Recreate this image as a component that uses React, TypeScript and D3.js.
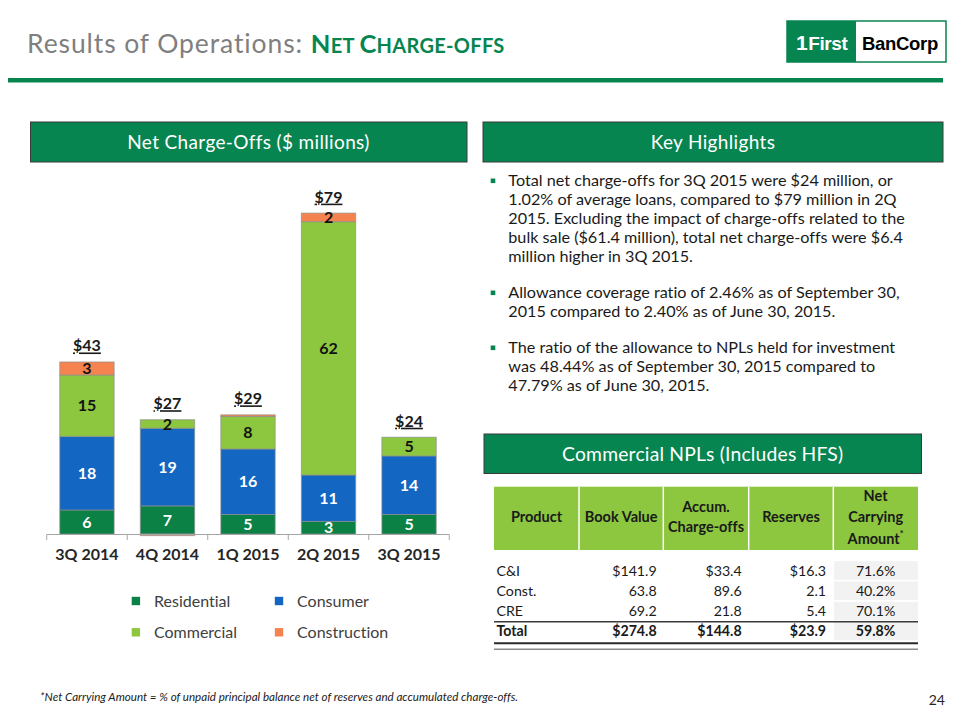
import React from 'react';
import * as d3 from 'd3';

// ---------- Data ----------
const quarters = ['3Q 2014', '4Q 2014', '1Q 2015', '2Q 2015', '3Q 2015'];
const residential = [5.9, 6.9, 4.8, 3.1, 4.8];
const consumer = [18.1, 19.1, 16.1, 11.4, 14.4];
const commercial = [15.1, 2.1, 8.0, 62.3, 4.6];
const construction = [3.2, -0.4, 0.4, 2.1, 0];
const totalLabels = ['$43', '$27', '$29', '$79', '$24'];
const seriesNames = ['Residential', 'Consumer', 'Commercial', 'Construction'];

const products = ['C&I', 'Const.', 'CRE', 'Total'];
const bookValue = ['$141.9', '63.8', '69.2', '$274.8'];
const accumChargeOffs = ['$33.4', '89.6', '21.8', '$144.8'];
const reserves = ['$16.3', '2.1', '5.4', '$23.9'];
const netCarrying = ['71.6%', '40.2%', '70.1%', '59.8%'];

const highlightBullets = [
  [
    'Total net charge-offs for 3Q 2015 were $24 million, or',
    '1.02% of average loans, compared to $79 million in 2Q',
    '2015. Excluding the impact of charge-offs related to the',
    'bulk sale ($61.4 million), total net charge-offs were $6.4',
    'million higher in 3Q 2015.',
  ],
  [
    'Allowance coverage ratio of 2.46% as of September 30,',
    '2015 compared to 2.40% as of June 30, 2015.',
  ],
  [
    'The ratio of the allowance to NPLs held for investment',
    'was 48.44% as of September 30, 2015 compared to',
    '47.79% as of June 30, 2015.',
  ],
];

// ---------- Styles ----------
const FONT = 'Lato, "Open Sans", sans-serif';
const GREEN = '#078550';
const colors: Record<string, string> = {
  Residential: '#0B8145',
  Consumer: '#1366C2',
  Commercial: '#8DC63F',
  Construction: '#F5834F',
};
const labelColors: Record<string, string> = {
  Residential: '#ffffff',
  Consumer: '#ffffff',
  Commercial: '#111111',
  Construction: '#111111',
};

export default function App() {
  const rows = quarters.map((q, i) => ({
    q,
    Residential: residential[i],
    Consumer: consumer[i],
    Commercial: commercial[i],
    Construction: construction[i],
  }));
  const stack = d3
    .stack<any>()
    .keys(seriesNames)
    .offset(d3.stackOffsetDiverging);
  const series = stack(rows);

  const x = d3
    .scaleBand<string>()
    .domain(quarters)
    .range([46.7, 449.3])
    .paddingInner(0.325)
    .paddingOuter(0.1625);
  const y = d3.scaleLinear().domain([0, 79]).range([534, 212.7]);

  const tops = quarters.map((_, i) =>
    d3.max(series, (s) => s[i][1]) as number
  );

  const step = x.step();
  const tickXs = d3.range(quarters.length + 1).map((k) => 46.7 + k * step);

  // table layout
  const colEdges = [494, 579, 663.3, 748.7, 833.3, 918];
  const rowYs = [570.7, 591, 611.3, 631.3];

  return (
    <svg
      width={960}
      height={720}
      style={{ position: 'absolute', left: 0, top: 0, background: '#fff', fontVariantLigatures: 'none' }}
      fontFamily={FONT}
    >
      {/* Title */}
      <text x={27} y={52.5} fontSize={26.5} fill="#7F7F7F" letterSpacing={0.9}>
        Results of Operations:{' '}
        <tspan fill={GREEN} fontWeight={700} letterSpacing={0.3}>
          <tspan fontSize={25.5}>N</tspan>
          <tspan fontSize={20}>ET </tspan>
          <tspan fontSize={25.5}>C</tspan>
          <tspan fontSize={20}>HARGE-OFFS</tspan>
        </tspan>
      </text>
      {/* Logo */}
      <g>
        <rect x={787} y={21} width={159} height={41} fill="#fff" stroke={GREEN} strokeWidth={1.5} />
        <rect x={787} y={21} width={69} height={41} fill={GREEN} />
        <text x={796} y={49.5} fill="#fff" fontFamily='"Liberation Sans", Arial, sans-serif' fontWeight={700}>
          <tspan fontSize={21} letterSpacing={-1}>1</tspan>
          <tspan fontSize={19} dx={1.5} letterSpacing={-0.4}>First</tspan>
        </text>
        <text x={900} y={49.5} textAnchor="middle" fill="#000" fontFamily='"Liberation Sans", Arial, sans-serif' fontWeight={700} fontSize={18.5} letterSpacing={-0.3}>
          BanCorp
        </text>
      </g>
      {/* Green rule */}
      <rect x={8} y={78} width={935} height={4.5} fill={GREEN} />

      {/* Header boxes */}
      <rect x={30.5} y={122} width={436.5} height={40} fill={GREEN} stroke="#3a3a3a" strokeWidth={1} />
      <text x={248.5} y={148.5} textAnchor="middle" fill="#fff" fontSize={19} letterSpacing={0.35}>
        Net Charge-Offs ($ millions)
      </text>
      <rect x={483} y={122} width={460} height={40} fill={GREEN} stroke="#3a3a3a" strokeWidth={1} />
      <text x={713} y={148.5} textAnchor="middle" fill="#fff" fontSize={19} letterSpacing={0.35}>
        Key Highlights
      </text>

      {/* Bars */}
      <g>
        {series.map((s) =>
          s.map((d, i) => {
            const y0 = y(Math.max(d[0], d[1]));
            const y1 = y(Math.min(d[0], d[1]));
            const h = y1 - y0;
            if (h <= 0) return null;
            return (
              <rect
                key={s.key + i}
                x={x(quarters[i])}
                y={y0}
                width={x.bandwidth()}
                height={h}
                fill={colors[s.key]}
                stroke="#8f8f8f"
                strokeOpacity={0.7}
                strokeWidth={1}
              />
            );
          })
        )}
        {series.map((s) =>
          s.map((d, i) => {
            const v = d[1] - d[0];
            if (Math.abs(v) < 1) return null;
            const cy = (y(d[0]) + y(d[1])) / 2;
            return (
              <text
                key={'l' + s.key + i}
                x={(x(quarters[i]) as number) + x.bandwidth() / 2}
                y={cy}
                dy="0.36em"
                textAnchor="middle"
                fontWeight={700}
                fontSize={16}
                fill={labelColors[s.key]}
              >
                {Math.round(v)}
              </text>
            );
          })
        )}
        {totalLabels.map((t, i) => (
          <text
            key={'t' + i}
            x={(x(quarters[i]) as number) + x.bandwidth() / 2}
            y={y(tops[i]) - 10.5}
            textAnchor="middle"
            fontWeight={700}
            fontSize={16}
            fill="#1a1a1a"
            textDecoration="underline"
          >
            {t}
          </text>
        ))}
      </g>
      {/* Axis */}
      <g stroke="#A6A6A6" strokeWidth={1}>
        <line x1={46.7} x2={449.3} y1={534.5} y2={534.5} />
        {tickXs.map((tx, k) => (
          <line key={k} x1={tx} x2={tx} y1={534.5} y2={540} />
        ))}
      </g>
      {quarters.map((q) => (
        <text
          key={q}
          x={(x(q) as number) + x.bandwidth() / 2}
          y={560}
          textAnchor="middle"
          fontWeight={700}
          fontSize={16}
          fill="#262626"
        >
          {q}
        </text>
      ))}
      {/* Legend */}
      {seriesNames.map((n, k) => {
        const lx = k % 2 === 0 ? 131.7 : 274.8;
        const ly = k < 2 ? 601 : 632.3;
        return (
          <g key={n}>
            <rect x={lx} y={ly - 4.2} width={8.4} height={8.4} fill={colors[n]} />
            <text x={lx + 22.3} y={ly} dy="0.36em" fontSize={16} fill="#404040">
              {n}
            </text>
          </g>
        );
      })}

      {/* Key highlights text */}
      {(() => {
        const out: JSX.Element[] = [];
        let by = 186;
        highlightBullets.forEach((lines, b) => {
          out.push(
            <rect key={'b' + b} x={490.7} y={by - 7.5} width={4.6} height={4.6} fill={GREEN} />
          );
          lines.forEach((ln, li) => {
            out.push(
              <text key={b + '-' + li} x={508.3} y={by + li * 19} fontSize={16.2} fill="#1a1a1a">
                {ln}
              </text>
            );
          });
          by += lines.length * 19 + 17;
        });
        return out;
      })()}

      {/* Commercial NPLs header */}
      <rect x={484} y={434} width={437.5} height={39.5} fill={GREEN} stroke="#3a3a3a" strokeWidth={1} />
      <text x={702.7} y={461} textAnchor="middle" fill="#fff" fontSize={19.3} letterSpacing={0.2}>
        Commercial NPLs (Includes HFS)
      </text>

      {/* Table header */}
      <rect x={494} y={486.7} width={424} height={63.3} fill="#8DC63F" />
      {colEdges.slice(1, -1).map((cx, k) => (
        <line key={k} x1={cx} x2={cx} y1={486.7} y2={550} stroke="#ffffff" strokeWidth={1.5} />
      ))}
      <g fontWeight={700} fontSize={14.5} fill="#1a1a1a" textAnchor="middle">
        <text x={536.5} y={521.5}>Product</text>
        <text x={621.2} y={521.5}>Book Value</text>
        <text x={706} y={512}>Accum.</text>
        <text x={706} y={531.5}>Charge-offs</text>
        <text x={791} y={521.5}>Reserves</text>
        <text x={875.6} y={500.5}>Net</text>
        <text x={875.6} y={521.5}>Carrying</text>
        <text x={875.6} y={544}>
          Amount
          <tspan dy={-7} fontSize={9}>*</tspan>
        </text>
      </g>
      {/* Net carrying shaded cells */}
      {rowYs.map((ry, r) => (
        <rect key={'bg' + r} x={834} y={ry - 9.5} width={84} height={18.6} fill="#F2F2F2" />
      ))}
      {/* Table rows */}
      {products.map((p, r) => {
        const bold = r === products.length - 1;
        const ty = rowYs[r];
        return (
          <g key={p} fontSize={14.2} fill="#1a1a1a" fontWeight={bold ? 700 : 400}>
            <text x={496.5} y={ty} dy="0.36em">{p}</text>
            <text x={656.7} y={ty} dy="0.36em" textAnchor="end">{bookValue[r]}</text>
            <text x={741.7} y={ty} dy="0.36em" textAnchor="end">{accumChargeOffs[r]}</text>
            <text x={826} y={ty} dy="0.36em" textAnchor="end">{reserves[r]}</text>
            <text x={875.6} y={ty} dy="0.36em" textAnchor="middle">{netCarrying[r]}</text>
          </g>
        );
      })}
      <line x1={494} x2={918} y1={621.7} y2={621.7} stroke="#3a3a3a" strokeWidth={1.6} />
      <line x1={494} x2={918} y1={643.3} y2={643.3} stroke="#2a2a2a" strokeWidth={2} />
      <line x1={494} x2={918} y1={649.3} y2={649.3} stroke="#8a8a8a" strokeWidth={1.5} />

      {/* Footnote */}
      <text x={40} y={701} fontSize={11.6} fontStyle="italic" fill="#1a1a1a">
        *Net Carrying Amount = % of unpaid principal balance net of reserves and accumulated charge-offs.
      </text>
      <text x={945} y={705} textAnchor="end" fontSize={14} fill="#262626">
        24
      </text>
    </svg>
  );
}
